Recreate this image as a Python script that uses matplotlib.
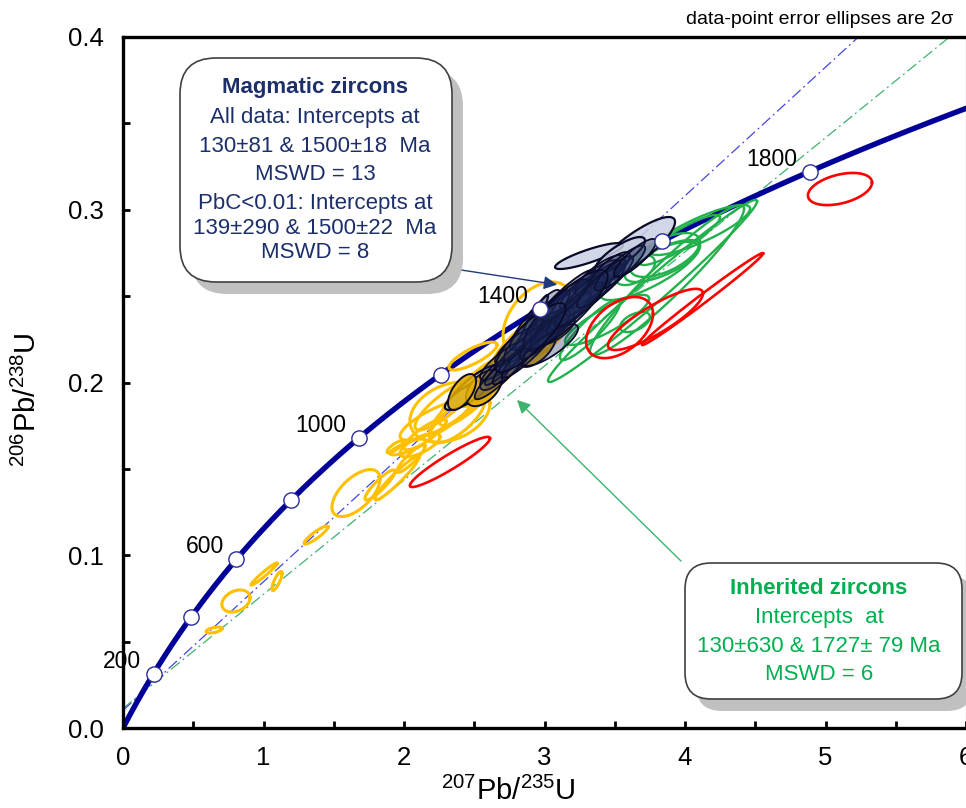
import numpy as np
import matplotlib.pyplot as plt
from matplotlib.patches import FancyBboxPatch

plt.rcParams['font.family'] = ['Liberation Sans', 'DejaVu Sans']
plt.rcParams['mathtext.fontset'] = 'custom'
plt.rcParams['mathtext.rm'] = 'Liberation Sans'

# decay constants, 1/yr
L235 = 9.8485e-10
L238 = 1.55125e-10

ages = [200, 400, 600, 800, 1000, 1200, 1400, 1600, 1800]
age_labels = [200, 600, 1000, 1400, 1800]

magmatic_intercepts = [130, 1500]
inherited_intercepts = [130, 1727]

# rows: 207Pb/235U, 2s, 206Pb/238U, 2s, rho
yellow = [
    (0.648, 0.057, 0.0567, 0.0017, 0.5),
    (0.804, 0.100, 0.0735, 0.0064, 0.3),
    (1.004, 0.093, 0.0891, 0.0064, 0.97),
    (1.096, 0.036, 0.0851, 0.0055, 0.8),
    (1.374, 0.085, 0.1117, 0.0052, 0.9),
    (1.658, 0.171, 0.1360, 0.0136, 0.6),
    (1.829, 0.107, 0.1407, 0.0087, 0.9),
    (1.950, 0.157, 0.1447, 0.0127, 0.95),
    (1.936, 0.057, 0.1627, 0.0035, 0.8),
    (2.028, 0.128, 0.1627, 0.0046, 0.8),
    (2.050, 0.100, 0.1560, 0.0080, 0.9),
    (2.114, 0.142, 0.1638, 0.0069, 0.7),
    (2.150, 0.150, 0.1700, 0.0090, 0.85),
    (2.221, 0.249, 0.1783, 0.0116, 0.8),
    (2.327, 0.285, 0.1829, 0.0174, 0.3),
    (2.380, 0.200, 0.1800, 0.0150, 0.7),
    (2.292, 0.214, 0.1870, 0.0145, 0.85),
    (2.434, 0.249, 0.1870, 0.0174, 0.95),
    (2.500, 0.250, 0.1950, 0.0200, 0.85),
    (2.600, 0.200, 0.2010, 0.0150, 0.9),
    (2.491, 0.171, 0.2153, 0.0081, 0.8),
    (2.719, 0.249, 0.2101, 0.0203, 0.9),
    (2.800, 0.180, 0.2230, 0.0150, 0.9),
    (2.954, 0.249, 0.2362, 0.0220, 0.4),
]

# grey-filled magmatic analyses (outer ones)
magmatic = [
    (3.630, 0.299, 0.2767, 0.0191, 0.85),
    (3.317, 0.242, 0.2732, 0.0075, 0.85),
    (3.537, 0.178, 0.2738, 0.0104, 0.8),
    (2.498, 0.185, 0.1974, 0.0127, 0.85),
    (2.448, 0.157, 0.1928, 0.0087, 0.8),
    (2.925, 0.100, 0.2373, 0.0133, 0.95),
]

# dense magmatic core
magmatic_core = [
    (3.217, 0.356, 0.2478, 0.0232, 0.95),
    (3.110, 0.249, 0.2449, 0.0203, 0.92),
    (3.324, 0.214, 0.2564, 0.0145, 0.85),
    (3.004, 0.214, 0.2304, 0.0127, 0.8),
    (3.395, 0.178, 0.2622, 0.0116, 0.8),
    (2.932, 0.178, 0.2362, 0.0174, 0.9),
    (2.826, 0.178, 0.2217, 0.0116, 0.8),
    (2.719, 0.178, 0.2130, 0.0116, 0.85),
    (3.075, 0.142, 0.2304, 0.0087, 0.7),
    (3.181, 0.285, 0.2408, 0.0174, 0.95),
    (3.039, 0.142, 0.2391, 0.0145, 0.9),
    (3.288, 0.142, 0.2506, 0.0116, 0.8),
    (3.466, 0.142, 0.2651, 0.0104, 0.8),
    (2.648, 0.107, 0.2043, 0.0087, 0.7),
    (2.790, 0.214, 0.2159, 0.0174, 0.95),
    (2.683, 0.180, 0.2043, 0.0140, 0.9),
    (2.790, 0.160, 0.2119, 0.0130, 0.9),
    (2.897, 0.200, 0.2188, 0.0160, 0.92),
    (3.004, 0.180, 0.2275, 0.0140, 0.9),
    (3.110, 0.220, 0.2350, 0.0170, 0.93),
    (3.217, 0.200, 0.2431, 0.0150, 0.9),
    (3.324, 0.250, 0.2506, 0.0180, 0.93),
    (3.431, 0.200, 0.2582, 0.0150, 0.9),
    (3.537, 0.180, 0.2663, 0.0130, 0.88),
    (3.644, 0.150, 0.2721, 0.0110, 0.85),
    (2.861, 0.150, 0.2275, 0.0150, 0.9),
    (3.146, 0.170, 0.2478, 0.0120, 0.85),
    (3.039, 0.200, 0.2217, 0.0120, 0.8),
    (3.150, 0.300, 0.2420, 0.0230, 0.85),
    (2.900, 0.250, 0.2260, 0.0200, 0.85),
]

magmatic_high_pbc = [
    (2.569, 0.128, 0.1968, 0.0105, 0.5),
    (2.413, 0.100, 0.1945, 0.0104, 0.6),
    (2.947, 0.135, 0.2200, 0.0110, 0.6),
]

inherited = [
    (3.769, 0.744, 0.2530, 0.0527, 0.985),
    (3.872, 0.548, 0.2593, 0.0434, 0.95),
    (3.751, 0.356, 0.2651, 0.0174, 0.8),
    (3.858, 0.249, 0.2738, 0.0127, 0.6),
    (3.644, 0.107, 0.2350, 0.0058, 0.5),
    (3.445, 0.299, 0.2362, 0.0145, 0.85),
    (4.107, 0.356, 0.2883, 0.0145, 0.85),
    (3.836, 0.263, 0.2698, 0.0116, 0.7),
    (3.644, 0.142, 0.2651, 0.0087, 0.5),
    (3.964, 0.285, 0.2825, 0.0145, 0.9),
    (3.324, 0.214, 0.2304, 0.0174, 0.9),
]

discordant = [
    (5.103, 0.228, 0.3120, 0.0093, 0.4),
    (4.125, 0.431, 0.2483, 0.0266, 0.993),
    (3.790, 0.338, 0.2365, 0.0177, 0.85),
    (3.534, 0.238, 0.2318, 0.0177, 0.45),
    (2.327, 0.285, 0.1540, 0.0145, 0.94),
]


def concordia(t_ma):
    t = np.asarray(t_ma) * 1e6
    return np.exp(L235 * t) - 1, np.exp(L238 * t) - 1


def ellipse(row, n=120):
    x, sx, y, sy, rho = row
    a = np.linspace(0, 2 * np.pi, n)
    return x + sx * np.cos(a), y + sy * (rho * np.cos(a) + np.sqrt(1 - rho ** 2) * np.sin(a))


fig = plt.figure(figsize=(9.66, 8.08), dpi=100)
ax = fig.add_axes([123 / 966, 80 / 808, 843 / 966, 691 / 808])

# discordia lines
for (lo, hi), col in [(magmatic_intercepts, '#4646e6'), (inherited_intercepts, '#3cb46e')]:
    x1, y1 = concordia(lo)
    x2, y2 = concordia(hi)
    xs = np.array([0, 6])
    ax.plot(xs, y1 + (y2 - y1) / (x2 - x1) * (xs - x1), color=col, lw=0.9,
            ls=(0, (9, 3, 1.5, 3)), zorder=2)

# concordia
tt = np.linspace(0, 2000, 500)
cx, cy = concordia(tt)
ax.plot(cx, cy, color='#000099', lw=3.9, zorder=2.5)

for row in yellow:
    ax.plot(*ellipse(row), color='#FFC000', lw=2.2, zorder=3)
for row in inherited:
    ax.plot(*ellipse(row), color='#22B14C', lw=1.7, zorder=3)
for row in discordant:
    ax.plot(*ellipse(row), color='#FF0000', lw=1.9, zorder=3)
for row in magmatic:
    ax.fill(*ellipse(row), facecolor=(0.79, 0.82, 0.89, 0.85), edgecolor='#0a0a28', lw=1.6, zorder=3.8)
for row in magmatic_high_pbc:
    ax.fill(*ellipse(row), facecolor=(0.89, 0.68, 0.0, 0.85), edgecolor='#0a0a28', lw=1.4, zorder=3.9)
for row in magmatic_core:
    ax.fill(*ellipse(row), facecolor=(0.10, 0.15, 0.34, 0.33), edgecolor='#0a0a28', lw=1.3, zorder=4)

mx, my = concordia(ages)
ax.plot(mx, my, 'o', ms=11, mfc='white', mec='#2b2b9a', mew=1, zorder=6)
for a in age_labels:
    px, py = concordia(a)
    ax.annotate(str(a), (px, py), xytext=(-9, 9), textcoords='offset points',
                ha='right', va='center', fontsize=16.5, zorder=7)

ax.set_xlim(0, 6)
ax.set_ylim(0, 0.4)
ax.set_xticks(range(7))
ax.set_xticks(np.arange(0.5, 6, 1), minor=True)
ax.set_yticks(np.arange(0, 0.41, 0.1))
ax.set_yticks(np.arange(0.05, 0.4, 0.1), minor=True)
ax.yaxis.set_major_formatter('{x:.1f}')
ax.tick_params(which='both', direction='in', length=5, width=2, labelsize=18.5)
ax.tick_params(axis='x', pad=13)
ax.tick_params(axis='y', pad=14)
for s in ['left', 'bottom', 'top']:
    ax.spines[s].set_linewidth(2.4)
ax.spines['right'].set_linewidth(0.8)
ax.spines['right'].set_color('#555555')

ax.set_xlabel('$^{207}$Pb/$^{235}$U', fontsize=21)
ax.set_ylabel('$^{206}$Pb/$^{238}$U', fontsize=21)
ax.xaxis.set_label_coords((508 - 123) / 843, (728 - 777) / 691)
ax.yaxis.set_label_coords((42 - 123) / 843, (728 - 400) / 691)

navy = '#1c2f6b'
green = '#00B050'
ax.annotate('', xy=(3.11, 0.2564), xytext=(448, 808 - 268), textcoords='figure pixels',
            arrowprops=dict(arrowstyle='-|>', color='#1f3a7a', lw=1, mutation_scale=20), zorder=8)
ax.annotate('', xy=(2.79, 0.1910), xytext=(683, 808 - 563), textcoords='figure pixels',
            arrowprops=dict(arrowstyle='-|>', color='#3cb46e', lw=1, mutation_scale=20), zorder=8)

# text boxes drawn on a pixel overlay
ov = fig.add_axes([0, 0, 1, 1])
ov.set_xlim(0, 966)
ov.set_ylim(808, 0)
ov.axis('off')


def box(x0, y0, x1, y1, r):
    style = f'round,pad=0,rounding_size={r}'
    ov.add_patch(FancyBboxPatch((x0 + 11, y0 + 12), x1 - x0, y1 - y0, boxstyle=style,
                                fc='#c0c0c0', ec='none'))
    ov.add_patch(FancyBboxPatch((x0, y0), x1 - x0, y1 - y0, boxstyle=style,
                                fc='white', ec='#404040', lw=1.2))


box(180, 58, 452, 282, 36)
mag_lines = ['All data: Intercepts at', '130±81 & 1500±18  Ma', 'MSWD = 13',
             'PbC<0.01: Intercepts at', '139±290 & 1500±22  Ma', 'MSWD = 8']
ov.text(315, 88, 'Magmatic zircons', ha='center', va='center', fontsize=16,
        weight='bold', color=navy)
for y, s in zip([118, 146, 175, 203, 229, 253], mag_lines):
    ov.text(315, y, s, ha='center', va='center', fontsize=16, color=navy)

box(685, 563, 962, 699, 26)
inh_lines = ['Intercepts  at', '130±630 & 1727± 79 Ma', 'MSWD = 6']
ov.text(819, 588, 'Inherited zircons', ha='center', va='center', fontsize=16,
        weight='bold', color=green)
for y, s in zip([617, 646, 675], inh_lines):
    ov.text(819, y, s, ha='center', va='center', fontsize=16, color=green)

ov.text(953, 20, 'data-point error ellipses are 2σ', ha='right', va='center', fontsize=14)

fig.savefig('out.png', dpi=100)
